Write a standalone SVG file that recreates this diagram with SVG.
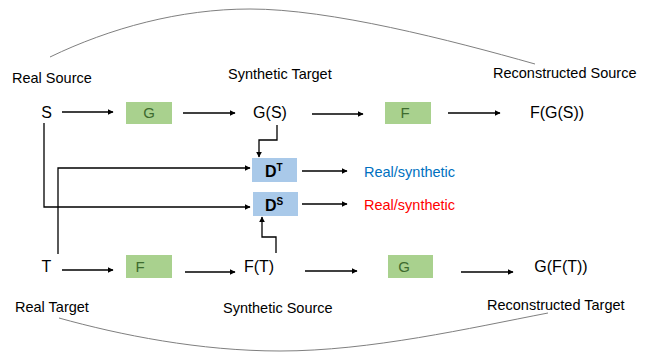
<svg xmlns="http://www.w3.org/2000/svg" width="646" height="356" viewBox="0 0 646 356">
<defs>
<style>
.lbl{font-family:"Liberation Sans",Arial,sans-serif;font-size:14.5px;fill:#000}
.nd{font-family:"Liberation Sans",Arial,sans-serif;font-size:16px;fill:#000;text-anchor:middle}
.bt{font-family:"Liberation Sans",Arial,sans-serif;font-size:15px;fill:#3d6b2e;text-anchor:middle}
.gb{fill:#a9d18e}
.db{fill:#a9c9e9}
.dt{font-family:"Liberation Sans",Arial,sans-serif;font-weight:bold;fill:#000}
.ln{fill:none;stroke:#000;stroke-width:1.3}
.arc{fill:none;stroke:#7f7f7f;stroke-width:1}
</style>
<marker id="ah" viewBox="0 0 10 10" refX="9" refY="5" markerWidth="6" markerHeight="6" markerUnits="userSpaceOnUse" orient="auto">
<path d="M0,0 L10,5 L0,10 z" fill="#000"/>
</marker>
</defs>
<rect width="646" height="356" fill="#fff"/>

<g id="arcs">
<path class="arc" d="M50,57 C110,28 180,9 250,9 C330,9 450,40 535,64"/>
<path class="arc" d="M59,318 C120,335 200,351 280,351 C370,351 470,328 548,313"/>
</g>

<g id="labels">
<text class="lbl" x="12" y="83">Real Source</text>
<text class="lbl" x="228" y="79">Synthetic Target</text>
<text class="lbl" x="493" y="78">Reconstructed Source</text>
<text class="lbl" x="15" y="312">Real Target</text>
<text class="lbl" x="223" y="313">Synthetic Source</text>
<text class="lbl" x="487" y="310">Reconstructed Target</text>
</g>

<g id="S"><text class="nd" x="46.5" y="118">S</text></g>
<g id="G1"><rect class="gb" x="126" y="102" width="46" height="22"/><text class="bt" x="149" y="118">G</text></g>
<g id="GS"><text class="nd" x="270" y="118">G(S)</text></g>
<g id="F1"><rect class="gb" x="385" y="102" width="46" height="22"/><text class="bt" x="405" y="118">F</text></g>
<g id="FGS"><text class="nd" x="557" y="118">F(G(S))</text></g>

<g id="DT"><rect class="db" x="252" y="158" width="45" height="24"/><text class="dt" x="265" y="177" font-size="16">D<tspan font-size="10" dy="-6">T</tspan></text></g>
<g id="DS"><rect class="db" x="253" y="192" width="45" height="24"/><text class="dt" x="265" y="211" font-size="16">D<tspan font-size="10" dy="-6">S</tspan></text></g>
<g id="out1"><text class="lbl" x="364" y="177" style="fill:#0070c0">Real/synthetic</text></g>
<g id="out2"><text class="lbl" x="364" y="210" style="fill:#ff0000">Real/synthetic</text></g>

<g id="T"><text class="nd" x="46.5" y="272">T</text></g>
<g id="F2"><rect class="gb" x="126" y="255" width="46" height="23"/><text class="bt" x="140" y="272">F</text></g>
<g id="FT"><text class="nd" x="259" y="272">F(T)</text></g>
<g id="G2"><rect class="gb" x="388" y="255" width="45" height="23"/><text class="bt" x="404" y="272">G</text></g>
<g id="GFT"><text class="nd" x="561" y="272">G(F(T))</text></g>

<g id="connectors">
<path class="ln" marker-end="url(#ah)" d="M62,112 H113"/>
<path class="ln" marker-end="url(#ah)" d="M183,113 H235"/>
<path class="ln" marker-end="url(#ah)" d="M312,114 H363"/>
<path class="ln" marker-end="url(#ah)" d="M448,113 H500"/>
<path class="ln" marker-end="url(#ah)" d="M62,270 H113"/>
<path class="ln" marker-end="url(#ah)" d="M185,272 H235"/>
<path class="ln" marker-end="url(#ah)" d="M305,271 H357"/>
<path class="ln" marker-end="url(#ah)" d="M461,272 H513"/>
<path class="ln" marker-end="url(#ah)" d="M44,123 V207 H250"/>
<path class="ln" marker-end="url(#ah)" d="M58,254 V168 H250"/>
<path class="ln" marker-end="url(#ah)" d="M277,125 V140 H259 V157"/>
<path class="ln" marker-end="url(#ah)" d="M276,253 V237 H262 V217"/>
<path class="ln" marker-end="url(#ah)" d="M302,171 H347"/>
<path class="ln" marker-end="url(#ah)" d="M302,204 H347"/>
</g>
</svg>
